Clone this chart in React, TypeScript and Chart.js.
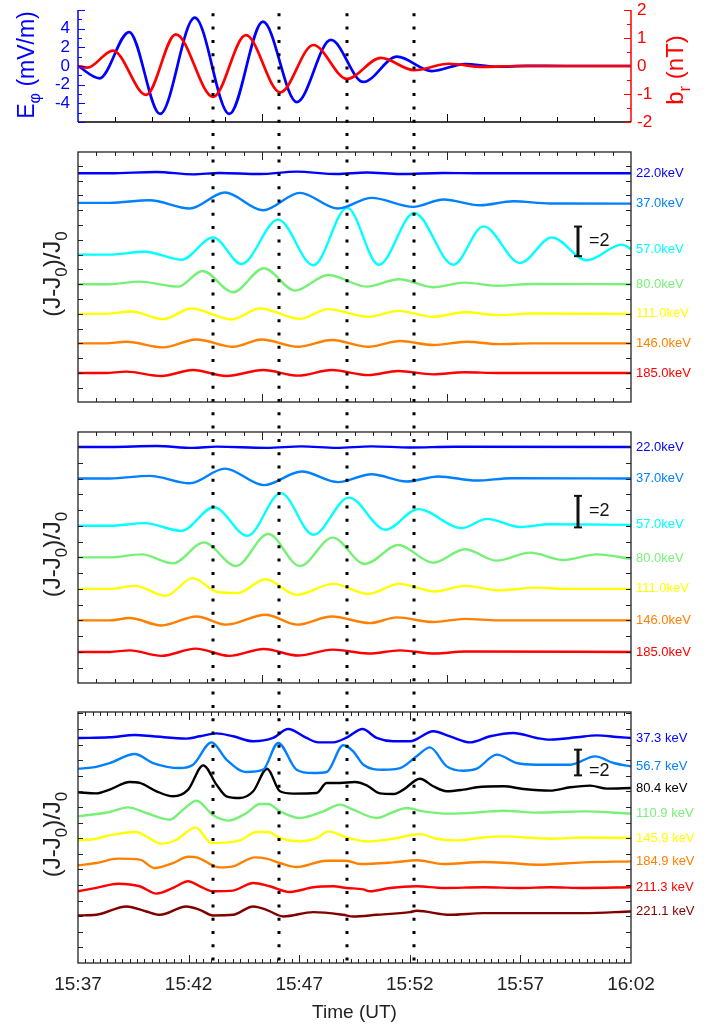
import React, { useEffect, useRef } from 'react';
import { Chart, registerables } from 'chart.js';

Chart.register(...registerables);

const FONT = "'Liberation Sans', Arial, Helvetica, sans-serif";
Chart.defaults.font.family = FONT;

type Pt = [number, number];

// ---------- shared time axis (minutes after 15:37 UT) ----------
const TIME_MIN = 0;
const TIME_MAX = 25;
const TIME_TICK_VALUES = [0, 5, 10, 15, 20, 25];
const TIME_TICK_LABELS = ['15:37', '15:42', '15:47', '15:52', '15:57', '16:02'];
const EVENT_TIMES = [6.1, 9.09, 12.17, 15.2];

// ---------- panel 1: E_phi (mV/m) and b_r (nT) ----------
const E_PHI: Pt[] = [[0, 0], [0.97, -1.32], [2.31, 3.64], [3.71, -5.14], [5.28, 5.18], [6.84, -5.14], [8.36, 4.75], [9.89, -3.86], [11.43, 2.79], [12.9, -1.71], [14.42, 1.0], [16.0, -0.54], [17.49, 0.2], [18.9, -0.08], [20.3, 0.02], [22, 0], [25, 0]];
const B_R: Pt[] = [[0, 0], [0.42, -0.06], [1.58, 0.55], [3.08, -1.03], [4.42, 1.13], [6.11, -1.1], [7.59, 1.1], [9.14, -0.94], [10.64, 0.75], [12.16, -0.46], [13.69, 0.29], [15.19, -0.15], [16.77, 0.08], [18.3, -0.03], [20, 0], [25, 0]];
const E_PHI_TICKS = [-4, -2, 0, 2, 4];
const B_R_TICKS = [-2, -1, 0, 1, 2];

// ---------- panel 2 ----------
const P2_LABELS = ['22.0keV', '37.0keV', '57.0keV', '80.0keV', '111.0keV', '146.0keV', '185.0keV'];
const P2_OFFSETS = [15.5, 13.5, 10, 8, 6, 4, 2];
const P2_22: Pt[] = [[0, 0], [1.43, 0], [3.55, 0.09], [5.2, -0.07], [6.41, 0.02], [8.22, -0.05], [9.88, 0.11], [11.69, -0.05], [13.05, 0.05], [14.56, -0.05], [16.5, 0.02], [18, 0], [25, 0]];
const P2_37: Pt[] = [[0, 0], [1.43, 0], [3.24, 0.18], [5.05, -0.38], [6.64, 0.7], [8.37, -0.5], [10.03, 0.68], [11.76, -0.38], [13.27, 0.34], [15.16, -0.27], [16.52, 0.23], [18.18, -0.16], [19.68, 0.11], [21.34, -0.04], [25, -0.05]];
const P2_57: Pt[] = [[0, 0], [1.43, 0], [3.02, 0.2], [4.68, -0.34], [6.11, 1.17], [7.39, -0.63], [9.05, 2.37], [10.64, -0.72], [12.17, 3.16], [13.6, -0.68], [15.2, 2.82], [16.97, -0.68], [18.33, 1.91], [19.99, -0.56], [21.42, 1.17], [23.0, -0.38], [24.59, 0.68], [25, 0.38]];
const P2_80: Pt[] = [[0, 0], [1.43, 0], [2.79, 0.18], [4.52, -0.16], [5.63, 0.9], [7.01, -0.54], [8.4, 1.08], [9.81, -0.43], [11.31, 0.63], [13.05, -0.16], [14.52, 0.34], [16.06, -0.2], [17.49, 0.11], [18.93, -0.1], [20.5, 0.02], [25, 0]];
const P2_111: Pt[] = [[0, 0], [1.2, 0], [2.42, 0.16], [3.85, -0.36], [5.13, 0.36], [6.94, -0.38], [8.22, 0.36], [10.03, -0.34], [11.31, 0.32], [13.12, -0.2], [14.48, 0.2], [16.06, -0.2], [17.49, 0.11], [19.08, -0.09], [20.5, 0.02], [25, 0]];
const P2_146: Pt[] = [[0, 0], [1.2, 0], [2.19, 0.11], [3.85, -0.27], [5.36, 0.27], [7.01, -0.23], [8.3, 0.27], [9.95, -0.23], [11.47, 0.23], [13.12, -0.23], [14.56, 0.16], [16.06, -0.11], [17.57, 0.11], [19.08, -0.05], [20.5, 0], [25, 0]];
const P2_185: Pt[] = [[0, 0], [1.2, 0], [2.19, 0.09], [3.77, -0.2], [5.2, 0.2], [6.71, -0.2], [8.37, 0.2], [9.95, -0.18], [11.47, 0.2], [13.12, -0.14], [14.48, 0.14], [16.06, -0.09], [17.49, 0.05], [19, 0], [25, 0]];

// ---------- panel 3 ----------
const P3_LABELS = ['22.0keV', '37.0keV', '57.0keV', '80.0keV', '111.0keV', '146.0keV', '185.0keV'];
const P3_OFFSETS = [15, 13, 10, 8, 6, 4, 2];
const P3_22: Pt[] = [[0, 0], [1.43, 0], [3.55, 0.06], [5.2, -0.06], [6.26, 0.02], [8.52, -0.06], [10.11, 0.04], [11.69, -0.06], [13.27, 0.04], [15, -0.03], [17, 0.01], [25, 0]];
const P3_37: Pt[] = [[0, 0], [1.43, 0], [3.24, 0.17], [5.05, -0.3], [6.64, 0.63], [8.4, -0.42], [10.11, 0.44], [11.76, -0.23], [13.27, 0.27], [14.86, -0.19], [16.29, 0.13], [18.03, -0.13], [19.6, 0.02], [25, 0]];
const P3_57: Pt[] = [[0, 0], [1.43, 0], [3.02, 0.17], [4.68, -0.32], [6.14, 1.18], [7.66, -0.63], [9.17, 2.07], [10.64, -0.57], [12.25, 1.79], [13.9, -0.25], [15.38, 1.06], [17.35, -0.15], [18.48, 0.44], [19.99, -0.08], [21.34, 0.1], [25, 0.06]];
const P3_80: Pt[] = [[0, 0], [1.43, 0], [2.87, 0.19], [4.3, -0.38], [5.69, 0.95], [7.14, -0.55], [8.6, 1.48], [10.03, -0.55], [11.51, 1.25], [12.97, -0.42], [14.48, 0.78], [16.06, -0.34], [17.49, 0.51], [18.93, -0.21], [20.44, 0.3], [21.95, -0.17], [23.46, 0.19], [25, -0.1]];
const P3_111: Pt[] = [[0, 0], [1.43, 0], [2.57, 0.19], [3.97, -0.44], [5.18, 0.68], [6.3, -0.2], [7.2, -0.27], [8.48, 0.61], [9.88, -0.38], [11.54, 0.32], [13.12, -0.32], [14.52, 0.32], [16.14, -0.17], [17.49, 0.19], [19.08, -0.1], [20.7, 0.08], [22, 0], [25, 0]];
const P3_146: Pt[] = [[0, 0], [1.43, 0], [2.34, 0.15], [3.77, -0.32], [5.36, 0.25], [6.71, -0.27], [8.48, 0.36], [9.91, -0.27], [11.47, 0.25], [13.2, -0.17], [14.41, 0.19], [16.06, -0.1], [17.49, 0.1], [19, 0], [25, 0]];
const P3_185: Pt[] = [[0, 0], [1.43, 0], [2.34, 0.1], [3.77, -0.25], [5.32, 0.21], [6.84, -0.25], [8.4, 0.19], [9.95, -0.23], [11.51, 0.15], [13.12, -0.1], [14.56, 0.1], [16.14, -0.1], [17.5, 0.03], [25, 0]];

// ---------- panel 4 (observations) ----------
const P4_LABELS = ['37.3 keV', '56.7 keV', '80.4 keV', '110.9 keV', '145.9 keV', '184.9 keV', '211.3 keV', '221.1 keV'];
const P4_OFFSETS = [17.51, 15.12, 13.28, 11.49, 9.54, 7.6, 5.63, 3.7];
const P4_373: Pt[] = [[0, 0], [1.43, 0.05], [2.57, 0.23], [3.39, 0.13], [4.9, -0.05], [5.51, 0.13], [6.26, 0.36], [7.01, 0.13], [7.92, -0.26], [8.82, 0], [9.5, 0.7], [10.33, 0], [10.86, -0.34], [11.54, -0.34], [12.17, 0.05], [12.86, 0.7], [13.5, 0], [14.25, -0.26], [15.01, -0.26], [16.06, 0.52], [16.82, 0.13], [17.72, -0.34], [18.63, 0.13], [19.68, 0.39], [20.74, 0], [21.34, -0.13], [22.55, 0.05], [23.45, 0.2], [24.36, 0.08], [25, 0]];
const P4_567: Pt[] = [[0, 0], [0.68, 0.1], [1.43, 0.44], [2.57, 1.14], [3.39, 0.44], [4.6, 0.05], [5.2, 0.31], [6.04, 2.05], [6.71, 0.7], [7.62, -0.26], [8.37, -0.08], [9.05, 2.0], [9.88, -0.08], [10.64, -0.34], [11.24, -0.26], [11.99, 1.82], [12.44, 1.35], [12.9, 0.31], [13.8, -0.08], [14.56, 0.05], [15.31, 0.96], [15.91, 1.66], [16.67, 0.18], [17.42, -0.16], [18.03, 0], [18.93, 1.09], [19.83, 0.44], [20.74, 0.31], [22.25, 0.31], [23.38, 0.96], [24.21, 0.44], [25, 0.18]];
const P4_804: Pt[] = [[0, 0], [0.83, -0.08], [1.43, 0.21], [2.34, 0.8], [2.79, 0.73], [3.55, 0.08], [4.3, -0.31], [4.98, 0.21], [5.66, 2.1], [6.26, 0.6], [6.71, -0.31], [7.32, -0.44], [7.92, 0.08], [8.55, 1.84], [9.13, 0.08], [9.73, -0.1], [10.79, -0.05], [11.24, 0.73], [11.84, 0.73], [12.52, 0.8], [13.05, 0.54], [13.65, -0.08], [14.26, -0.13], [14.71, 0.21], [15.46, 1.06], [16.06, 0.47], [16.67, 0.08], [17.42, 0.21], [18.03, 0.39], [19.23, 0.47], [20.14, 0.26], [21.34, 0.13], [22.25, 0.39], [23.15, 0.52], [23.91, 0.29], [25, 0.34]];
const P4_1109: Pt[] = [[0, -0.08], [1.43, 0.26], [2.26, 0.62], [3.09, 0.18], [4.15, -0.34], [4.75, 0.44], [5.36, 1.14], [6.11, 0], [6.79, -0.41], [7.62, 0.18], [8.22, 0.88], [8.6, 0.88], [9.13, 0.31], [10.03, -0.21], [11.09, 0.31], [11.84, 0.83], [12.44, 0.44], [13.5, -0.21], [14.25, 0.26], [14.86, 0.57], [15.61, 0.31], [16.82, 0.13], [18.33, 0.26], [19.23, 0.36], [20.74, 0.21], [22.85, 0.31], [25, 0.13]];
const P4_1459: Pt[] = [[0, 0], [0.83, 0.13], [1.43, 0.39], [2.64, 0.65], [3.09, 0.31], [3.77, -0.26], [4.45, 0.05], [5.32, 1.01], [6.04, -0.21], [7.32, 0], [8.07, 0.65], [8.6, 0.65], [9.13, 0.18], [10.03, -0.08], [10.79, 0.18], [11.31, 0.7], [12.14, 0.23], [13.05, -0.08], [14.25, 0.13], [15.01, 0.39], [15.46, 0.49], [16.21, 0.13], [17.12, 0], [18.33, 0.23], [19.23, 0.31], [21.34, 0.13], [22.85, 0.23], [25, 0.18]];
const P4_1849: Pt[] = [[0, 0], [0.83, 0.18], [1.81, 0.52], [2.79, 0.44], [3.47, -0.21], [4.3, 0.18], [4.98, 0.67], [5.36, 0.62], [6.41, -0.16], [7.01, -0.08], [8.0, 0.62], [8.52, 0.52], [9.13, 0.18], [9.88, -0.13], [11.24, 0.36], [12.14, 0.36], [12.75, 0.1], [14.25, 0.23], [15.31, 0.39], [16.52, 0.1], [18.33, 0.26], [19.53, 0.18], [20.74, 0.05], [22.85, 0.23], [25, 0.31]];
const P4_2113: Pt[] = [[0, -0.05], [0.83, 0.21], [1.81, 0.54], [2.79, 0.34], [3.55, -0.23], [4.3, 0.21], [4.98, 0.73], [5.51, 0.34], [6.11, -0.05], [7.01, 0], [7.92, 0.6], [8.67, 0.34], [9.58, -0.1], [10.64, 0.26], [11.54, 0.34], [12.14, 0.21], [12.9, 0.1], [13.2, -0.05], [14.1, 0.21], [15.31, 0.34], [16.52, 0.21], [18.33, 0.26], [19.99, 0.21], [21.34, 0.26], [22.85, 0.21], [25, 0.26]];
const P4_2211: Pt[] = [[0, 0], [0.83, 0.05], [2.19, 0.7], [3.09, 0.31], [3.7, 0.05], [4.9, 0.7], [5.51, 0.44], [6.11, 0], [7.01, 0.05], [7.92, 0.7], [8.52, 0.44], [9.28, -0.08], [10.64, 0.26], [11.99, 0.05], [12.44, -0.08], [13.5, 0.05], [15.01, 0.26], [15.31, 0.36], [16.82, 0.05], [18.33, 0.18], [19.83, 0.18], [21.34, 0.18], [22.85, 0.18], [25, 0.31]];

// scale bar "=2"
const BAR_SIZE = 2;
const BAR_TIME = 22.6;

// ---------- styles ----------
const SIM_COLORS = ['#0000ff', '#0080ff', '#00ffff', '#78f078', '#ffff00', '#ff8000', '#ff0000'];
const OBS_COLORS = ['#0000ff', '#0080ff', '#000000', '#78f078', '#ffff00', '#ff8000', '#ff0000', '#800000'];

const CANVAS_W = 704;
const PAD_LEFT = 78;
const PAD_RIGHT = 73;

function seg(ctx: CanvasRenderingContext2D, x1: number, y1: number, x2: number, y2: number) {
  ctx.beginPath();
  ctx.moveTo(x1, y1);
  ctx.lineTo(x2, y2);
  ctx.stroke();
}

function drawEventLines(ctx: CanvasRenderingContext2D, xs: any, y1: number, y2: number, canvasTop: number) {
  ctx.save();
  ctx.strokeStyle = '#000';
  ctx.lineWidth = 3;
  ctx.setLineDash([3, 10.3]);
  ctx.lineDashOffset = canvasTop + y1;
  EVENT_TIMES.forEach((t) => {
    const x = Math.round(xs.getPixelForValue(t));
    seg(ctx, x, y1, x, y2);
  });
  ctx.restore();
}

function drawXTicks(ctx: CanvasRenderingContext2D, xs: any, area: any, step: number, majorEvery: number, minorLen: number, majorLen: number, top: boolean, color: string) {
  const n = Math.round((TIME_MAX - TIME_MIN) / step);
  ctx.save();
  ctx.strokeStyle = color;
  ctx.lineWidth = 1;
  for (let i = 1; i < n; i++) {
    const x = Math.round(xs.getPixelForValue(TIME_MIN + i * step)) + 0.5;
    const len = i % majorEvery === 0 ? majorLen : minorLen;
    seg(ctx, x, area.bottom, x, area.bottom - len);
    if (top) seg(ctx, x, area.top, x, area.top + len);
  }
  ctx.restore();
}

function drawYTicks(ctx: CanvasRenderingContext2D, ys: any, area: any, values: number[], lens: number[], side: 'left' | 'right' | 'both', color: string) {
  ctx.save();
  ctx.strokeStyle = color;
  ctx.lineWidth = 1;
  values.forEach((v, i) => {
    const y = Math.round(ys.getPixelForValue(v)) + 0.5;
    const len = lens[i];
    if (side !== 'right') seg(ctx, area.left, y, area.left + len, y);
    if (side !== 'left') seg(ctx, area.right, y, area.right - len, y);
  });
  ctx.restore();
}

type Part = { text: string; sub?: boolean };
function drawRotatedRich(ctx: CanvasRenderingContext2D, parts: Part[], bx: number, cy: number, size: number, color: string) {
  ctx.save();
  ctx.fillStyle = color;
  const subSize = size * 0.7;
  const widths = parts.map((p) => {
    ctx.font = `${p.sub ? subSize : size}px ${FONT}`;
    return ctx.measureText(p.text).width;
  });
  const total = widths.reduce((a, b) => a + b, 0);
  ctx.translate(bx, cy);
  ctx.rotate(-Math.PI / 2);
  ctx.textAlign = 'left';
  ctx.textBaseline = 'alphabetic';
  let x = -total / 2;
  parts.forEach((p, i) => {
    ctx.font = `${p.sub ? subSize : size}px ${FONT}`;
    ctx.fillText(p.text, x, p.sub ? size * 0.28 : 0);
    x += widths[i];
  });
  ctx.restore();
}

// ---------- panel 1 config ----------
function panel1Config(canvasTop: number, height: number): any {
  const plugin = {
    id: 'p1deco',
    afterDatasetsDraw(chart: any) {
      const { ctx, chartArea: a, scales } = chart;
      drawEventLines(ctx, scales.x, a.top, height, canvasTop);
    },
    afterDraw(chart: any) {
      const { ctx, chartArea: a, scales } = chart;
      ctx.save();
      ctx.lineWidth = 1.5;
      ctx.strokeStyle = '#0000ff';
      seg(ctx, a.left, a.top, a.left, a.bottom);
      ctx.strokeStyle = '#ff0000';
      seg(ctx, a.right, a.top, a.right, a.bottom);
      ctx.strokeStyle = '#000';
      seg(ctx, a.left, a.bottom, a.right, a.bottom);
      ctx.restore();
      const lv: number[] = [];
      const ll: number[] = [];
      for (let v = -6; v <= 6; v++) { lv.push(v); ll.push(v % 2 === 0 ? 7 : 4); }
      drawYTicks(ctx, scales.y, a, lv, ll, 'left', '#0000ff');
      const rv: number[] = [];
      const rl: number[] = [];
      for (let k = -4; k <= 4; k++) { rv.push(k / 2); rl.push(k % 2 === 0 ? 7 : 4); }
      drawYTicks(ctx, scales.y2, a, rv, rl, 'right', '#ff0000');
      drawXTicks(ctx, scales.x, a, 5 / 3, 5, 5, 8, false, '#000');
      drawRotatedRich(ctx, [{ text: 'E' }, { text: 'φ', sub: true }, { text: ' (mV/m)' }], 34, 65, 23, '#0000ff');
      drawRotatedRich(ctx, [{ text: 'b' }, { text: 'r', sub: true }, { text: ' (nT)' }], 683, 70, 24, '#ff0000');
    },
  };
  return {
    type: 'line',
    data: {
      datasets: [
        { data: B_R.map(([x, y]) => ({ x, y })), yAxisID: 'y2', borderColor: '#ff0000', borderWidth: 2.7, pointRadius: 0, cubicInterpolationMode: 'monotone', fill: false },
        { data: E_PHI.map(([x, y]) => ({ x, y })), yAxisID: 'y', borderColor: '#0000ff', borderWidth: 2.7, pointRadius: 0, cubicInterpolationMode: 'monotone', fill: false },
      ],
    },
    options: {
      animation: false,
      responsive: false,
      events: [],
      layout: { padding: { left: 0, right: 0, top: 10, bottom: height - 122 } },
      plugins: { legend: { display: false }, tooltip: { enabled: false } },
      scales: {
        x: { type: 'linear', min: TIME_MIN, max: TIME_MAX, display: false },
        y: {
          type: 'linear', position: 'left', min: -6, max: 6,
          grid: { display: false, drawTicks: false }, border: { display: false },
          ticks: { color: '#0000ff', font: { size: 17 }, padding: 8, callback: (v: number) => String(v) },
          afterBuildTicks: (s: any) => { s.ticks = E_PHI_TICKS.map((v) => ({ value: v })); },
          afterFit: (s: any) => { s.width = PAD_LEFT; s.paddingTop = 0; s.paddingBottom = 0; },
        },
        y2: {
          type: 'linear', position: 'right', min: -2, max: 2,
          grid: { display: false, drawTicks: false }, border: { display: false },
          ticks: { color: '#ff0000', font: { size: 17 }, padding: 6, callback: (v: number) => String(v) },
          afterBuildTicks: (s: any) => { s.ticks = B_R_TICKS.map((v) => ({ value: v })); },
          afterFit: (s: any) => { s.width = PAD_RIGHT; s.paddingTop = 0; s.paddingBottom = 0; },
        },
      },
    },
    plugins: [plugin],
  };
}

// ---------- stacked panels ----------
interface StackSpec {
  canvasTop: number;
  height: number;
  padTop: number;
  padBottom: number;
  yMin: number;
  yMax: number;
  yTickStep: number;
  xTickStep: number;
  xMajorEvery: number;
  series: Pt[][];
  offsets: number[];
  labels: string[];
  colors: string[];
  barBottom: number;
  barTextAt: number;
  showTime: boolean;
  dotsToBottom: boolean;
}

function stackConfig(p: StackSpec): any {
  const plugin = {
    id: 'stackdeco',
    afterDatasetsDraw(chart: any) {
      const { ctx, chartArea: a, scales } = chart;
      drawEventLines(ctx, scales.x, 0, p.dotsToBottom ? p.height : a.bottom, p.canvasTop);
    },
    afterDraw(chart: any) {
      const { ctx, chartArea: a, scales } = chart;
      const xs = scales.x;
      const ys = scales.y;
      ctx.save();
      ctx.strokeStyle = '#222';
      ctx.lineWidth = 1.3;
      ctx.strokeRect(a.left, a.top, a.right - a.left, a.bottom - a.top);
      ctx.restore();
      const tv: number[] = [];
      const tl: number[] = [];
      for (let k = 1; k * p.yTickStep < p.yMax - 0.05; k++) { tv.push(k * p.yTickStep); tl.push(5); }
      drawYTicks(ctx, ys, a, tv, tl, 'both', '#222');
      drawXTicks(ctx, xs, a, p.xTickStep, p.xMajorEvery, 4, 8, true, '#222');
      // labels at right
      ctx.save();
      ctx.font = `13px ${FONT}`;
      ctx.textAlign = 'left';
      ctx.textBaseline = 'middle';
      p.series.forEach((s, i) => {
        const last = s[s.length - 1][1];
        ctx.fillStyle = p.colors[i];
        ctx.fillText(p.labels[i], a.right + 5, ys.getPixelForValue(p.offsets[i] + last));
      });
      ctx.restore();
      // scale bar
      const bx = Math.round(xs.getPixelForValue(BAR_TIME));
      const by1 = ys.getPixelForValue(p.barBottom);
      const by2 = ys.getPixelForValue(p.barBottom + BAR_SIZE);
      ctx.save();
      ctx.strokeStyle = '#111';
      ctx.lineWidth = 3;
      seg(ctx, bx, by1, bx, by2);
      ctx.lineWidth = 2;
      seg(ctx, bx - 4, by1, bx + 4, by1);
      seg(ctx, bx - 4, by2, bx + 4, by2);
      ctx.fillStyle = '#111';
      ctx.font = `18px ${FONT}`;
      ctx.textAlign = 'left';
      ctx.textBaseline = 'middle';
      ctx.fillText('=' + BAR_SIZE, bx + 11, ys.getPixelForValue(p.barTextAt));
      ctx.restore();
      // y title
      drawRotatedRich(ctx, [{ text: '(J-J' }, { text: '0', sub: true }, { text: ')/J' }, { text: '0', sub: true }], 60, (a.top + a.bottom) / 2 - 3, 24, '#222');
    },
  };
  const xScale: any = p.showTime
    ? {
        type: 'linear', position: 'bottom', min: TIME_MIN, max: TIME_MAX,
        grid: { display: false, drawTicks: false }, border: { display: false },
        afterBuildTicks: (s: any) => { s.ticks = TIME_TICK_VALUES.map((v) => ({ value: v })); },
        ticks: { autoSkip: false, maxRotation: 0, color: '#222', font: { size: 19 }, padding: 10, callback: (_v: number, i: number) => TIME_TICK_LABELS[i] },
        title: { display: true, text: 'Time (UT)', color: '#222', font: { size: 19 }, padding: { top: 0, bottom: 4 } },
        afterFit: (s: any) => { s.height = p.padBottom; s.paddingLeft = 0; s.paddingRight = 0; },
      }
    : { type: 'linear', min: TIME_MIN, max: TIME_MAX, display: false };
  return {
    type: 'line',
    data: {
      datasets: p.series.map((s, i) => ({
        data: s.map(([t, v]) => ({ x: t, y: p.offsets[i] + v })),
        borderColor: p.colors[i],
        borderWidth: 2.4,
        pointRadius: 0,
        cubicInterpolationMode: 'monotone',
        fill: false,
      })),
    },
    options: {
      animation: false,
      responsive: false,
      events: [],
      layout: { padding: { left: PAD_LEFT, right: PAD_RIGHT, top: p.padTop, bottom: p.showTime ? 0 : p.padBottom } },
      plugins: { legend: { display: false }, tooltip: { enabled: false } },
      scales: {
        x: xScale,
        y: { type: 'linear', min: p.yMin, max: p.yMax, display: false },
      },
    },
    plugins: [plugin],
  };
}

const PANEL2: StackSpec = {
  canvasTop: 137, height: 280, padTop: 15, padBottom: 15,
  yMin: 0.04, yMax: 16.94, yTickStep: 1, xTickStep: 5 / 6, xMajorEvery: 10,
  series: [P2_22, P2_37, P2_57, P2_80, P2_111, P2_146, P2_185],
  offsets: P2_OFFSETS, labels: P2_LABELS, colors: SIM_COLORS,
  barBottom: 9.9, barTextAt: 10.95, showTime: false, dotsToBottom: true,
};
const PANEL3: StackSpec = {
  canvasTop: 417, height: 280, padTop: 15, padBottom: 14,
  yMin: 0.03, yMax: 15.95, yTickStep: 1, xTickStep: 5 / 6, xMajorEvery: 10,
  series: [P3_22, P3_37, P3_57, P3_80, P3_111, P3_146, P3_185],
  offsets: P3_OFFSETS, labels: P3_LABELS, colors: SIM_COLORS,
  barBottom: 9.9, barTextAt: 10.95, showTime: false, dotsToBottom: true,
};
const PANEL4: StackSpec = {
  canvasTop: 697, height: 331, padTop: 15, padBottom: 65,
  yMin: 0, yMax: 19.53, yTickStep: 1.214, xTickStep: 1 / 3, xMajorEvery: 15,
  series: [P4_373, P4_567, P4_804, P4_1109, P4_1459, P4_1849, P4_2113, P4_2211],
  offsets: P4_OFFSETS, labels: P4_LABELS, colors: OBS_COLORS,
  barBottom: 14.6, barTextAt: 14.9, showTime: true, dotsToBottom: false,
};

function ChartCanvas({ top, height, make }: { top: number; height: number; make: () => any }) {
  const ref = useRef<HTMLCanvasElement>(null);
  useEffect(() => {
    if (!ref.current) return;
    const chart = new Chart(ref.current, make());
    return () => chart.destroy();
  }, []);
  return (
    <canvas
      ref={ref}
      width={CANVAS_W}
      height={height}
      style={{ position: 'absolute', left: 0, top, width: CANVAS_W, height, display: 'block' }}
    />
  );
}

export default function App() {
  return (
    <div style={{ position: 'absolute', left: 0, top: 0, width: 704, height: 1028, background: '#fff', overflow: 'hidden' }}>
      <ChartCanvas top={0} height={137} make={() => panel1Config(0, 137)} />
      <ChartCanvas top={PANEL2.canvasTop} height={PANEL2.height} make={() => stackConfig(PANEL2)} />
      <ChartCanvas top={PANEL3.canvasTop} height={PANEL3.height} make={() => stackConfig(PANEL3)} />
      <ChartCanvas top={PANEL4.canvasTop} height={PANEL4.height} make={() => stackConfig(PANEL4)} />
    </div>
  );
}
